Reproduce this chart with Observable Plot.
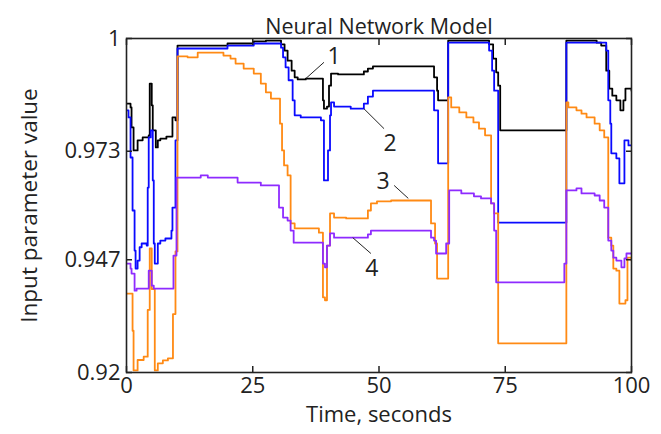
<!DOCTYPE html>
<html><head><meta charset="utf-8">
<script src="https://cdn.jsdelivr.net/npm/d3@7"></script>
<script src="https://cdn.jsdelivr.net/npm/@observablehq/plot@0.6"></script>
<style>body{margin:0;background:#fff}</style>
</head><body><div id="chart"></div>
<script>
// Series values: [time (s), value], step-after
const series1 = [[0,0.9844],[0.8,0.9835],[1.0,0.9787],[1.4,0.9732],[2.2,0.9756],[3.2,0.9763],[4.4,0.9768],[4.6,0.9892],[5.0,0.984],[5.2,0.978],[5.8,0.9739],[6.2,0.9756],[6.7,0.976],[7.9,0.9765],[9.1,0.9811],[9.7,0.9804],[10.1,0.9983],[20.0,0.9988],[25.2,0.9993],[27.6,0.9995],[30.6,0.9986],[31.3,0.9971],[31.9,0.9947],[32.7,0.9923],[33.3,0.9907],[33.9,0.9902],[35.5,0.9904],[38.9,0.9852],[39.1,0.9832],[39.7,0.9837],[40.1,0.9887],[40.5,0.9916],[41.9,0.9914],[47.0,0.9921],[47.8,0.9928],[48.8,0.9933],[60.9,0.9907],[61.5,0.9875],[61.7,0.9852],[63.7,0.9995],[71.8,0.9986],[72.6,0.9952],[73.2,0.9919],[73.6,0.9887],[74.0,0.978],[87.1,0.9995],[93.1,0.999],[94.0,0.9983],[95.0,0.9923],[95.6,0.988],[96.2,0.9863],[97.0,0.9852],[97.8,0.9828],[98.4,0.9852],[98.8,0.988],[100,0.9875]];
const series2 = [[0,0.9828],[0.4,0.9811],[0.8,0.9715],[1.2,0.9588],[1.6,0.9492],[1.8,0.9449],[2.2,0.9468],[2.6,0.95],[3.0,0.9509],[4.0,0.9504],[4.2,0.9643],[4.4,0.9763],[4.8,0.978],[5.2,0.966],[5.4,0.9509],[5.6,0.9461],[6.2,0.9509],[6.7,0.9516],[7.7,0.9521],[8.9,0.954],[9.1,0.9595],[9.7,0.9756],[10.1,0.9976],[20.0,0.9983],[25.2,0.9988],[30.6,0.9978],[31.0,0.9955],[31.5,0.9931],[32.1,0.99],[32.9,0.9852],[33.3,0.9816],[34.5,0.9811],[38.5,0.9804],[39.1,0.966],[39.9,0.9732],[40.3,0.9816],[40.5,0.9847],[41.1,0.9837],[44.4,0.9832],[47.0,0.9844],[47.8,0.9861],[48.8,0.9875],[60.9,0.9828],[61.7,0.9701],[63.7,0.999],[71.8,0.9971],[72.4,0.9923],[72.8,0.9875],[73.6,0.9559],[87.1,0.999],[95.0,0.9971],[95.4,0.9852],[95.8,0.9796],[96.0,0.9725],[97.0,0.9713],[97.6,0.9653],[98.6,0.9756],[99.4,0.9744],[100,0.9744]];
const series3 = [[0,0.9389],[1.2,0.930],[1.4,0.9205],[2.2,0.923],[3.4,0.9238],[4.2,0.935],[4.6,0.9497],[5.0,0.940],[5.6,0.9205],[6.2,0.9222],[7.2,0.9229],[8.2,0.9234],[9.2,0.934],[9.7,0.949],[10.1,0.9957],[12.1,0.9955],[14.1,0.9966],[19.2,0.9959],[20.6,0.9952],[21.6,0.994],[23.2,0.9928],[25.2,0.9916],[26.6,0.9892],[27.6,0.9871],[28.6,0.9856],[30.4,0.9796],[30.8,0.9732],[31.2,0.9696],[31.9,0.9672],[32.5,0.9557],[33.3,0.9545],[38.1,0.9535],[38.9,0.938],[39.3,0.9373],[39.7,0.9504],[40.3,0.9581],[41.1,0.9571],[43.5,0.9569],[47.8,0.9588],[48.4,0.9605],[49.6,0.961],[52.4,0.9612],[60.3,0.9557],[61.1,0.9509],[61.5,0.9425],[63.7,0.9859],[64.3,0.9835],[65.9,0.9823],[67.3,0.9811],[68.7,0.9799],[69.8,0.9784],[71.0,0.9768],[72.2,0.9605],[72.8,0.9581],[73.6,0.927],[87.1,0.9847],[87.5,0.9835],[89.1,0.9828],[90.1,0.982],[91.1,0.9811],[92.7,0.9796],[93.7,0.978],[94.6,0.9763],[95.4,0.9523],[96.0,0.9504],[96.4,0.9449],[97.0,0.9444],[97.6,0.9365],[98.8,0.9373],[99.2,0.9475],[100,0.9468]];
const series4 = [[0,0.9461],[0.8,0.9449],[1.0,0.9437],[1.6,0.9396],[2.0,0.9401],[4.4,0.9444],[5.0,0.9408],[5.4,0.9401],[9.3,0.948],[9.9,0.9667],[14.7,0.9672],[16.1,0.9667],[22.0,0.9655],[26.6,0.9648],[30.2,0.9595],[31.0,0.9571],[31.9,0.9564],[32.5,0.954],[33.1,0.9511],[38.9,0.9461],[39.3,0.9452],[39.7,0.9504],[40.3,0.9533],[41.1,0.9523],[47.8,0.9531],[48.4,0.954],[60.3,0.9523],[60.9,0.9516],[61.3,0.9485],[63.3,0.9509],[63.9,0.9636],[66.3,0.9629],[68.8,0.9622],[70.2,0.9617],[72.2,0.9605],[72.8,0.954],[73.2,0.9416],[86.7,0.9461],[87.1,0.9636],[89.1,0.9641],[90.1,0.9629],[92.7,0.9624],[93.7,0.9612],[94.6,0.9595],[95.4,0.9516],[96.0,0.9492],[96.4,0.9475],[97.0,0.9468],[98.0,0.9452],[98.6,0.9473],[99.0,0.9485],[100,0.9485]];

const seriesNames = ["1", "2", "3", "4"];
const seriesColors = ["#000000", "#0a0aff", "#ff8a14", "#8e2bff"];
const xTicks = [0, 25, 50, 75, 100];
const yTicks = [0.92, 0.947, 0.973, 1];
const yTickLabels = ["0.92", "0.947", "0.973", "1"];
const titleText = "Neural Network Model";
const xLabel = "Time, seconds";
const yLabel = "Input parameter value";

// annotation labels: text, position [t, v], leader line [t1, v1, t2, v2]
const annText = ["1", "2", "3", "4"];
const annPos = [[41.1, 0.9957], [52.2, 0.9749], [50.8, 0.9658], [48.6, 0.9449]];
const annLeader = [[35.5, 0.9904, 39.1, 0.9943], [47.0, 0.9832, 51.0, 0.9784], [53.0, 0.9648, 55.8, 0.9617], [44.8, 0.9523, 48.4, 0.9485]];

const rows = [series1, series2, series3, series4].flatMap((s, i) => s.map(([t, v]) => ({t, v, s: seriesNames[i]})));
const ann = annText.map((text, i) => ({text, t: annPos[i][0], v: annPos[i][1]}));
const leaders = annLeader.map(([t1, v1, t2, v2]) => ({t1, v1, t2, v2}));
const fmtY = d => yTickLabels[yTicks.indexOf(d)];

const chart = Plot.plot({
  width: 661, height: 434,
  marginLeft: 126, marginRight: 30, marginTop: 38, marginBottom: 62,
  style: {fontFamily: "'Open Sans', sans-serif", fontSize: "22px", color: "#222", background: "#fff"},
  x: {domain: [0, 100]},
  y: {domain: [0.92, 1]},
  color: {domain: seriesNames, range: seriesColors},
  marks: [
    Plot.line(rows, {x: "t", y: "v", z: "s", stroke: "s", curve: "step-after", strokeWidth: 1.8, clip: true}),
    Plot.link(leaders, {x1: "t1", y1: "v1", x2: "t2", y2: "v2", stroke: "#222", strokeWidth: 1}),
    Plot.text(ann, {x: "t", y: "v", text: "text", fontSize: 23, fill: "#222"}),
    Plot.frame({stroke: "#222", strokeWidth: 1.6}),
    Plot.axisX(xTicks, {tickSize: 0, tickPadding: 5, label: null, fontSize: 22}),
    Plot.axisX(xTicks, {tickSize: -6, tickFormat: () => "", label: null, strokeWidth: 1.5}),
    Plot.axisX(xTicks, {anchor: "top", tickSize: -6, tickFormat: () => "", label: null, strokeWidth: 1.5}),
    Plot.axisY(yTicks, {tickSize: 0, tickPadding: 6, tickFormat: fmtY, label: null, fontSize: 22}),
    Plot.axisY(yTicks, {tickSize: -6, tickFormat: () => "", label: null, strokeWidth: 1.5}),
    Plot.axisY(yTicks, {anchor: "right", tickSize: -6, tickFormat: () => "", label: null, strokeWidth: 1.5}),
    Plot.text([titleText], {text: d => d, frameAnchor: "top", dy: -20, fontSize: 21.5, fill: "#222"}),
    Plot.text([xLabel], {text: d => d, frameAnchor: "bottom", dy: 49, fontSize: 22, fill: "#222"}),
    Plot.text([yLabel], {text: d => d, frameAnchor: "left", textAnchor: "middle", dx: -97, rotate: -90, fontSize: 22.5, fill: "#222"})
  ]
});
document.getElementById("chart").append(chart);
</script>
</body></html>
